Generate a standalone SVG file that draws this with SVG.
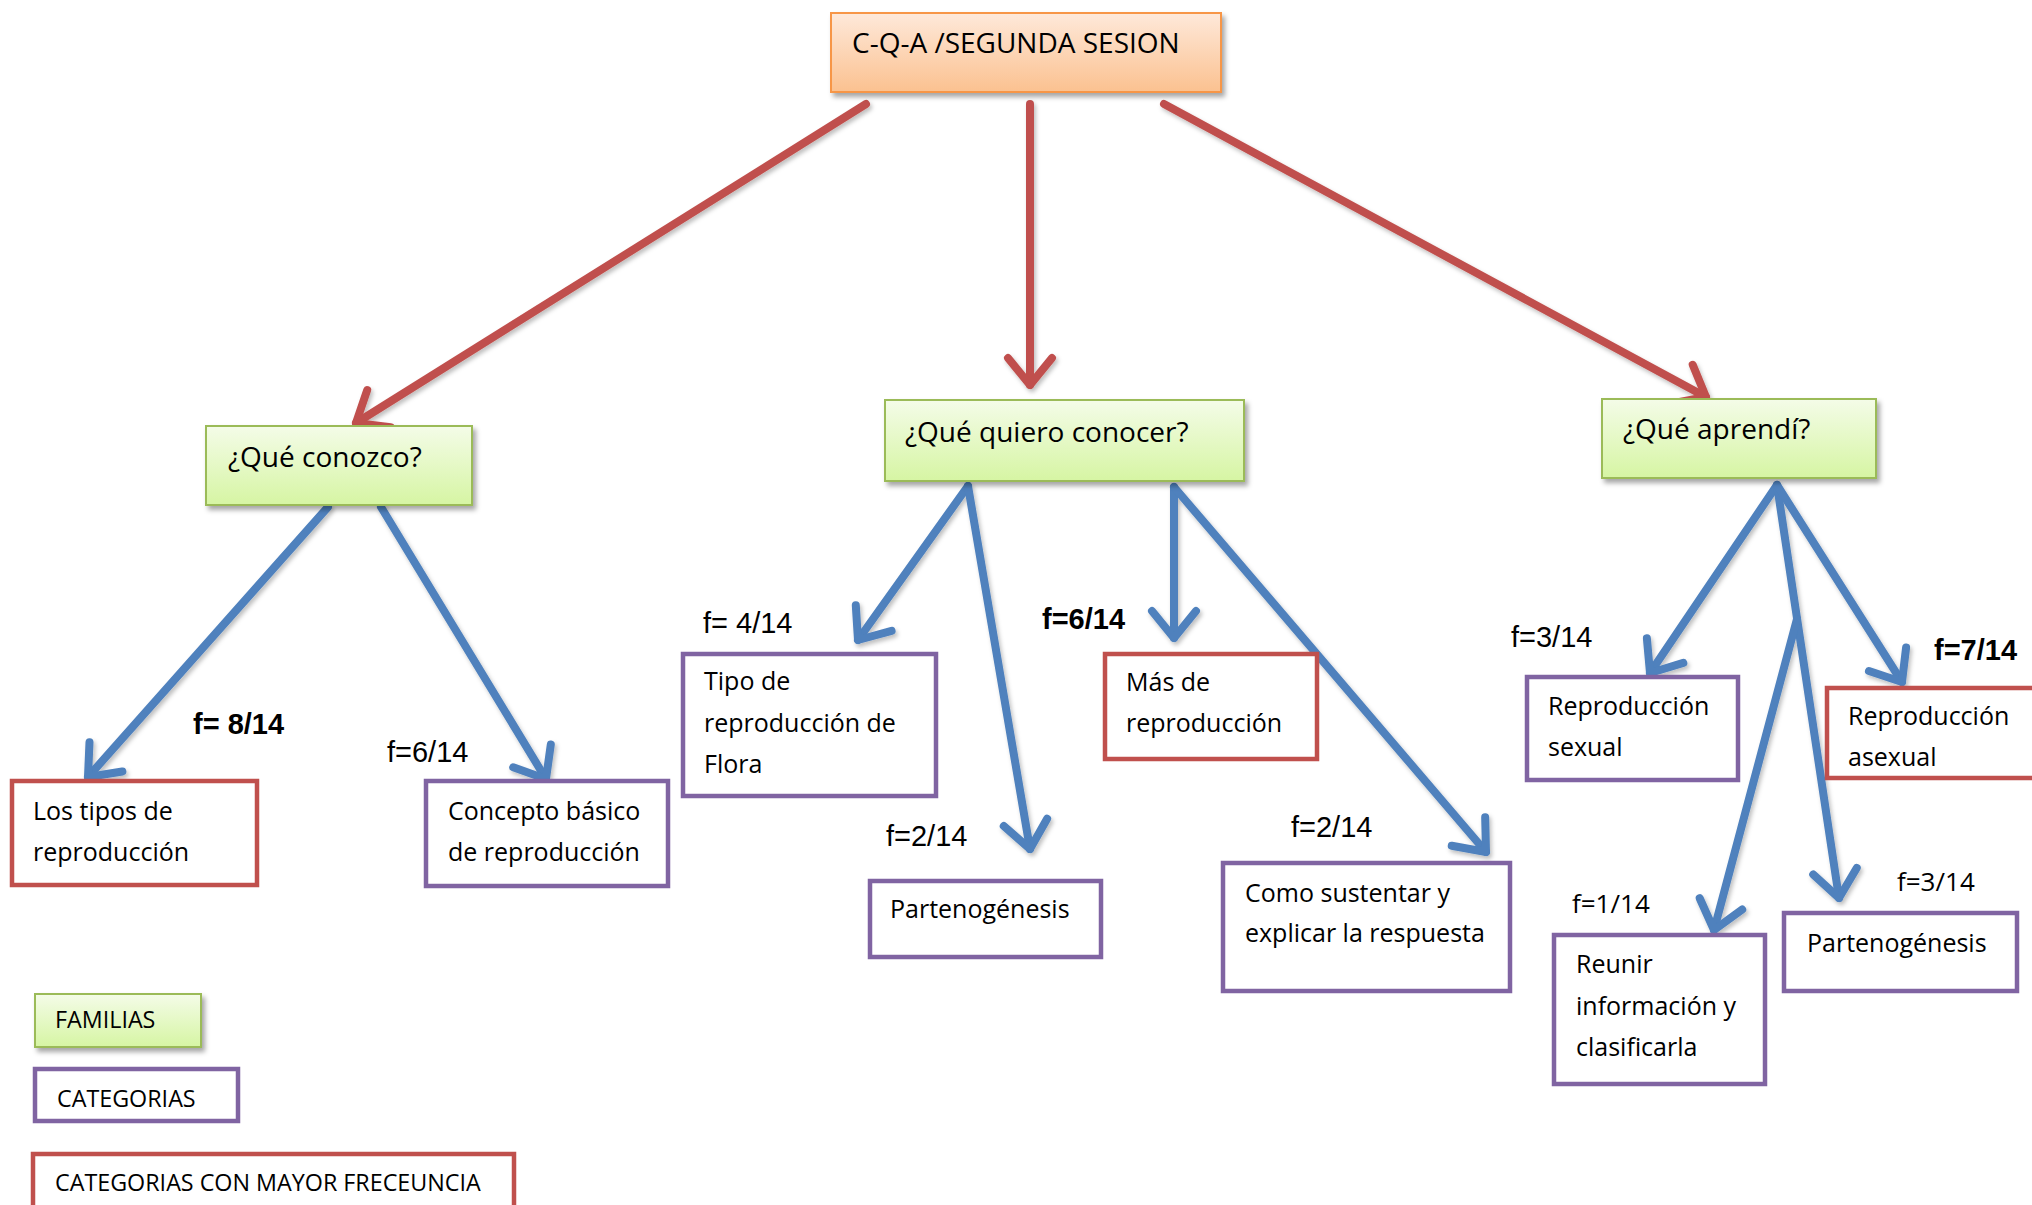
<svg xmlns="http://www.w3.org/2000/svg" width="2032" height="1205" viewBox="0 0 2032 1205">
<defs>
<linearGradient id="gGreen" x1="0" y1="0" x2="0" y2="1">
<stop offset="0" stop-color="#F4FCE8"/>
<stop offset="1" stop-color="#D6F5A3"/>
</linearGradient>
<linearGradient id="gOrange" x1="0" y1="0" x2="0" y2="1">
<stop offset="0" stop-color="#FEE9DA"/>
<stop offset="1" stop-color="#FBC190"/>
</linearGradient>
<filter id="sh" x="-10%" y="-10%" width="130%" height="140%">
<feDropShadow dx="3" dy="4" stdDeviation="2.5" flood-color="#000" flood-opacity="0.35"/>
</filter>
<filter id="shl" x="-10%" y="-10%" width="130%" height="130%">
<feDropShadow dx="2" dy="3" stdDeviation="2" flood-color="#000" flood-opacity="0.25"/>
</filter>
<marker id="ab" markerUnits="userSpaceOnUse" orient="auto" overflow="visible" markerWidth="1" markerHeight="1" refX="0" refY="0">
<path d="M-27,-22 L0,0 L-27,22" fill="none" stroke="#4F81BD" stroke-width="8" stroke-linecap="round" stroke-linejoin="round"/>
</marker>
<marker id="ar" markerUnits="userSpaceOnUse" orient="auto" overflow="visible" markerWidth="1" markerHeight="1" refX="0" refY="0">
<path d="M-27,-22 L0,0 L-27,22" fill="none" stroke="#C0504D" stroke-width="8" stroke-linecap="round" stroke-linejoin="round"/>
</marker>
</defs>
<style>
.fam{fill:url(#gGreen);stroke:#9BBB59;stroke-width:2;filter:url(#sh)}
.top{fill:url(#gOrange);stroke:#F79646;stroke-width:2;filter:url(#sh)}
.cat{fill:#fff;stroke:#8064A2;stroke-width:4.5}
.hi{fill:#fff;stroke:#C0504D;stroke-width:4.5}
.t{font-family:"Open Sans","DejaVu Sans",sans-serif;fill:#000}
.t28{font-size:28px}
.t25{font-size:25px}
.t22{font-size:23.3px}
.f{font-family:"Liberation Sans",Arial,sans-serif;font-size:29px;fill:#000}
.fb{font-family:"Liberation Sans",Arial,sans-serif;font-size:29px;font-weight:bold;fill:#000}
.fc{font-family:"Open Sans",sans-serif;font-size:26px;fill:#000}
.lb{fill:none;stroke:#4F81BD;stroke-width:8;stroke-linecap:round;marker-end:url(#ab)}
.lr{fill:none;stroke:#C0504D;stroke-width:8;stroke-linecap:round;marker-end:url(#ar)}
</style>
<rect width="2032" height="1205" fill="#fff"/>

<g id="connectors" filter="url(#shl)">
<line class="lr" x1="866" y1="104" x2="356" y2="423"/>
<line class="lr" x1="1030" y1="104" x2="1030" y2="385"/>
<line class="lr" x1="1164" y1="104" x2="1706" y2="397"/>
<line class="lb" x1="328" y1="507" x2="88" y2="777"/>
<line class="lb" x1="381" y1="507" x2="546" y2="779"/>
<line class="lb" x1="968" y1="486" x2="858" y2="640"/>
<line class="lb" x1="968" y1="486" x2="1030" y2="849"/>
<line class="lb" x1="1174" y1="487" x2="1174" y2="638"/>
<line class="lb" x1="1174" y1="487" x2="1486" y2="852"/>
<line class="lb" x1="1777" y1="485" x2="1650" y2="673"/>
<line class="lb" x1="1777" y1="485" x2="1839" y2="898"/>
<line class="lb" x1="1777" y1="485" x2="1902" y2="682"/>
<line class="lb" x1="1797" y1="619" x2="1714" y2="930"/>
</g>

<g id="title">
<rect class="top" x="831" y="13" width="390" height="79"/>
<text class="t t28" x="852" y="53">C-Q-A /SEGUNDA SESION</text>
</g>

<g id="fam-conozco">
<rect class="fam" x="206" y="426" width="266" height="79"/>
<text class="t t28" x="228" y="467">¿Qué conozco?</text>
</g>
<g id="fam-quiero">
<rect class="fam" x="885" y="400" width="359" height="81"/>
<text class="t t28" x="905" y="442">¿Qué quiero conocer?</text>
</g>
<g id="fam-aprendi">
<rect class="fam" x="1602" y="399" width="274" height="79"/>
<text class="t t28" x="1623" y="439">¿Qué aprendí?</text>
</g>

<g id="cat-tipos">
<rect class="hi" x="12" y="781" width="245" height="104"/>
<text class="t t25" x="33" y="820">Los tipos de</text>
<text class="t t25" x="33" y="861">reproducción</text>
</g>
<g id="cat-concepto">
<rect class="cat" x="426" y="781" width="242" height="105"/>
<text class="t t25" x="448" y="820">Concepto básico</text>
<text class="t t25" x="448" y="861">de reproducción</text>
</g>
<g id="cat-flora">
<rect class="cat" x="683" y="654" width="253" height="142"/>
<text class="t t25" x="704" y="690">Tipo de</text>
<text class="t t25" x="704" y="732">reproducción de</text>
<text class="t t25" x="704" y="773">Flora</text>
</g>
<g id="cat-parteno1">
<rect class="cat" x="870" y="881" width="231" height="76"/>
<text class="t t25" x="890" y="918">Partenogénesis</text>
</g>
<g id="cat-mas">
<rect class="hi" x="1105" y="654" width="212" height="105"/>
<text class="t t25" x="1126" y="691">Más de</text>
<text class="t t25" x="1126" y="732">reproducción</text>
</g>
<g id="cat-como">
<rect class="cat" x="1223" y="863" width="287" height="128"/>
<text class="t t25" x="1245" y="902">Como sustentar y</text>
<text class="t t25" x="1245" y="942">explicar la respuesta</text>
</g>
<g id="cat-sexual">
<rect class="cat" x="1527" y="677" width="211" height="103"/>
<text class="t t25" x="1548" y="715">Reproducción</text>
<text class="t t25" x="1548" y="756">sexual</text>
</g>
<g id="cat-asexual">
<rect class="hi" x="1827" y="688" width="220" height="90"/>
<text class="t t25" x="1848" y="725">Reproducción</text>
<text class="t t25" x="1848" y="766">asexual</text>
</g>
<g id="cat-reunir">
<rect class="cat" x="1554" y="935" width="211" height="149"/>
<text class="t t25" x="1576" y="973">Reunir</text>
<text class="t t25" x="1576" y="1015">información y</text>
<text class="t t25" x="1576" y="1056">clasificarla</text>
</g>
<g id="cat-parteno2">
<rect class="cat" x="1784" y="913" width="233" height="78"/>
<text class="t t25" x="1807" y="952">Partenogénesis</text>
</g>

<g id="freq-labels">
<text class="fb" x="193" y="734">f= 8/14</text>
<text class="f" x="387" y="762">f=6/14</text>
<text class="f" x="703" y="633">f= 4/14</text>
<text class="f" x="886" y="846">f=2/14</text>
<text class="fb" x="1042" y="629">f=6/14</text>
<text class="f" x="1291" y="837">f=2/14</text>
<text class="f" x="1511" y="647">f=3/14</text>
<text class="fb" x="1934" y="660">f=7/14</text>
<text class="fc" x="1572" y="913">f=1/14</text>
<text class="fc" x="1897" y="891">f=3/14</text>
</g>

<g id="legend-familias">
<rect class="fam" x="35" y="994" width="166" height="53"/>
<text class="t t22" x="55" y="1028">FAMILIAS</text>
</g>
<g id="legend-categorias">
<rect class="cat" x="35" y="1069" width="203" height="52"/>
<text class="t t22" x="57" y="1107">CATEGORIAS</text>
</g>
<g id="legend-mayor">
<rect class="hi" x="33" y="1154" width="481" height="60"/>
<text class="t t22" x="55" y="1191">CATEGORIAS CON MAYOR FRECEUNCIA</text>
</g>
</svg>
